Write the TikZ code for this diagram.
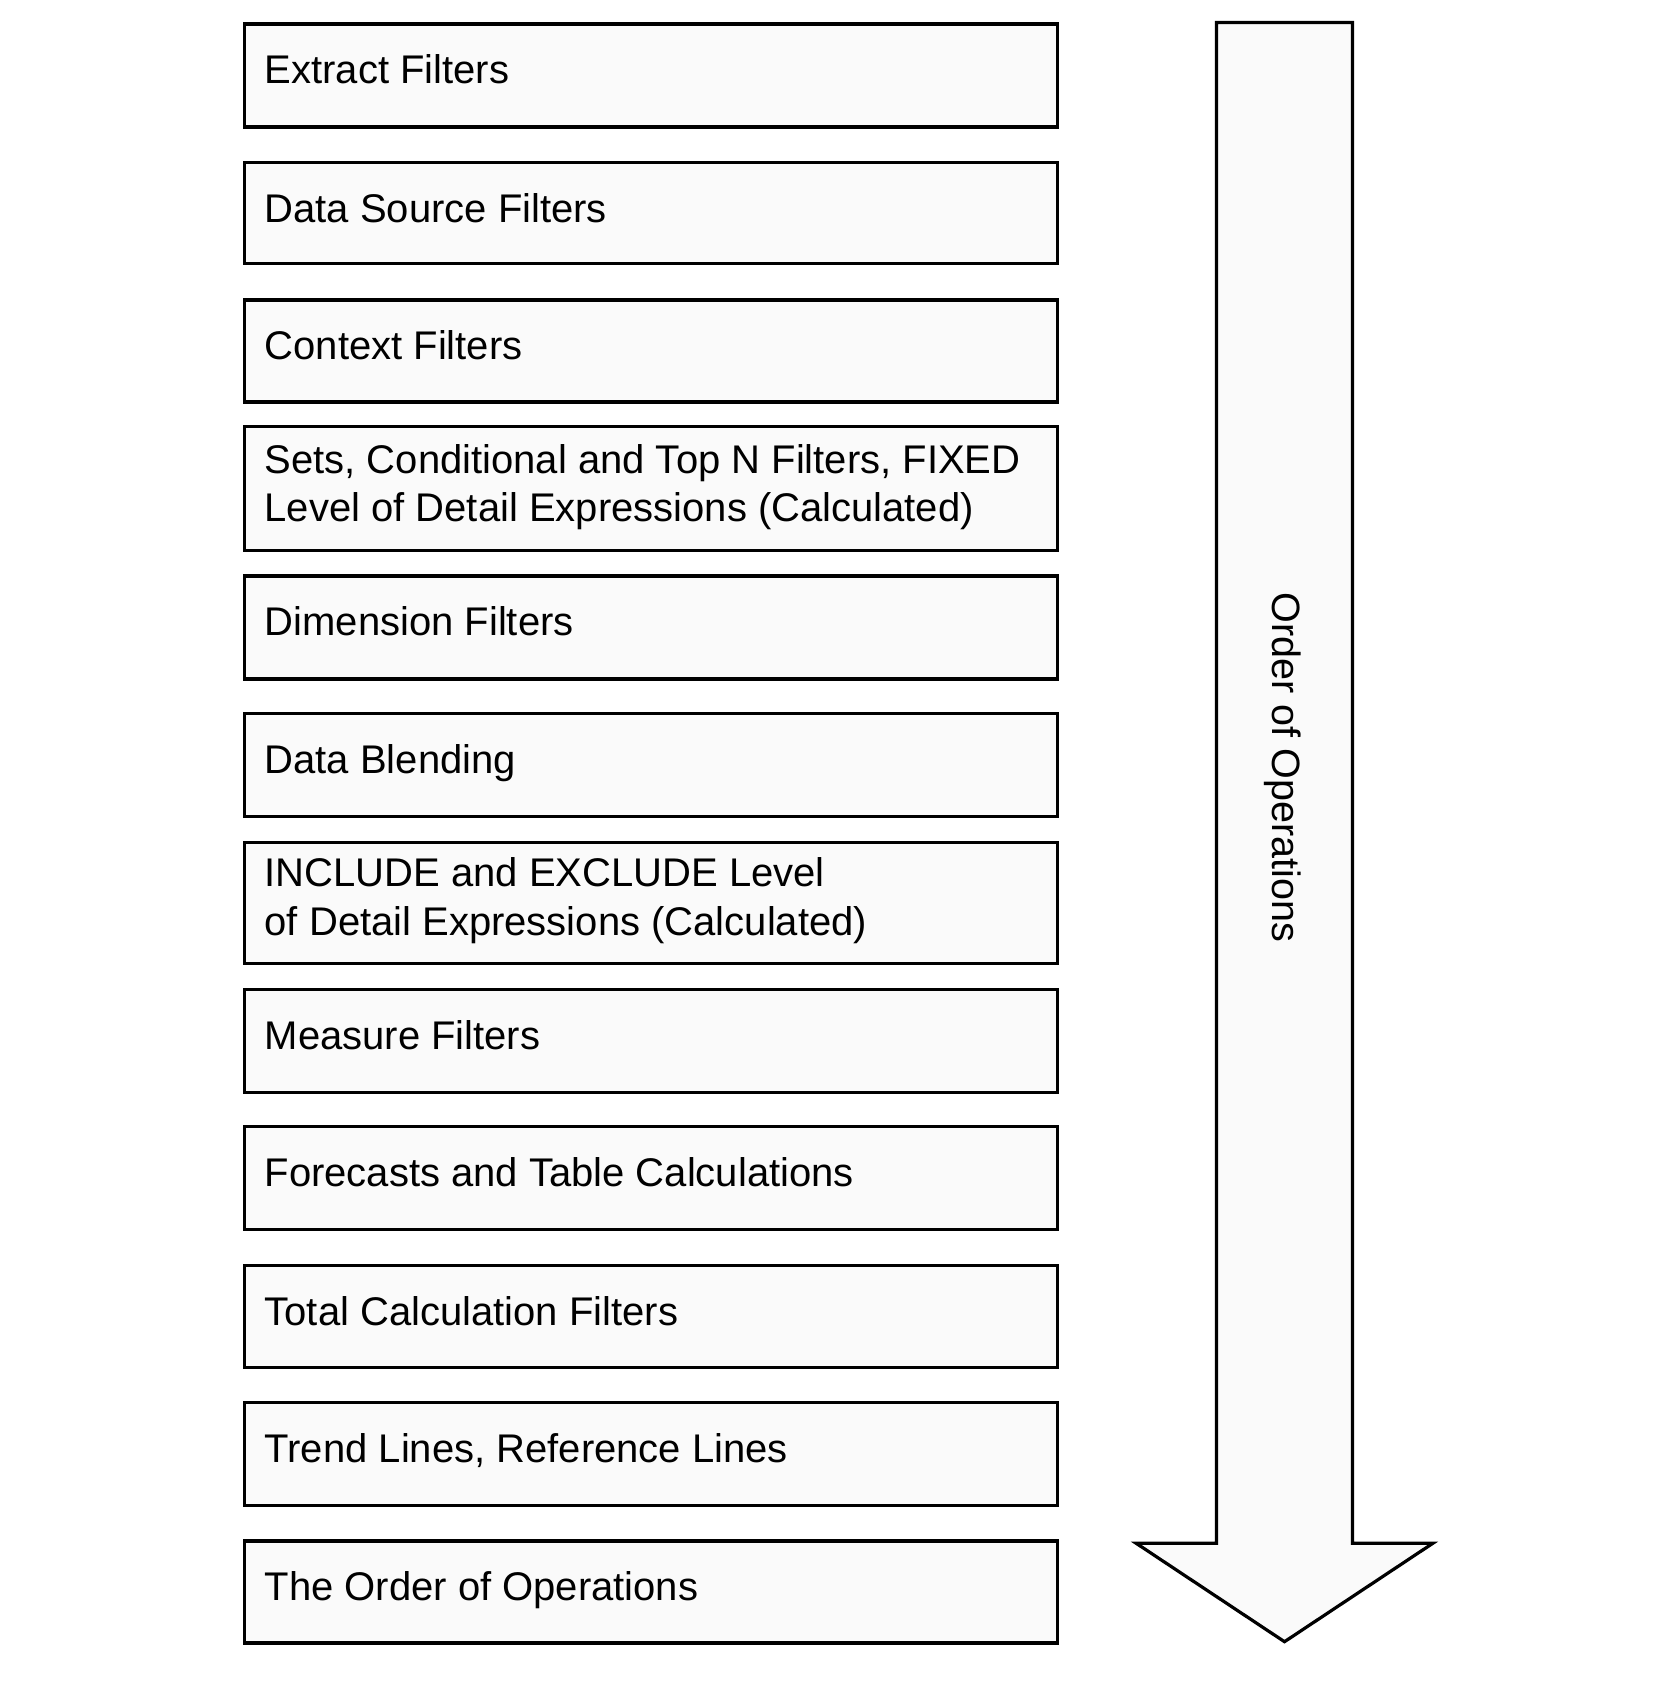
\documentclass[tikz,border=0pt]{standalone}
\usepackage{fontspec}
\setmainfont{Liberation Sans}
\begin{document}
\begin{tikzpicture}[x=1pt,y=-1pt,
  stepbox/.style={draw=black, line width=3.2pt, fill=black!2, rectangle, inner sep=0pt, minimum width=813.5pt, anchor=north west},
  lbl/.style={inner sep=0pt, anchor=base west, align=left, font=\fontsize{40}{48.3}\selectfont},
  arrowshape/.style={draw=black, line width=3.2pt, fill=black!2, line join=miter}]
\useasboundingbox (0,0) rectangle (1665,1683);
\fill[white] (0,0) rectangle (1665,1683);
% arrow
\draw[arrowshape] (1216.5,22.5) -- (1352.5,22.5) -- (1352.5,1543.3) -- (1432.8,1543.3) -- (1284.5,1641.7) -- (1136.2,1543.3) -- (1216.5,1543.3) -- cycle;
\node[inner sep=0pt, anchor=base, rotate=-90, font=\fontsize{39.5}{48.3}\selectfont] (ord) at (1272,767.4) {Order of Operations};
% boxes
\node[stepbox, minimum height=103pt] (b1) at (242.5,22.5) {};
\node[stepbox, minimum height=101pt] (b2) at (242.5,161) {};
\node[stepbox, minimum height=102pt] (b3) at (242.5,298.4) {};
\node[stepbox, minimum height=123.6pt] (b4) at (242.5,425) {};
\node[stepbox, minimum height=103pt] (b5) at (242.5,574.3) {};
\node[stepbox, minimum height=103pt] (b6) at (242.5,711.7) {};
\node[stepbox, minimum height=121.3pt] (b7) at (242.5,840.6) {};
\node[stepbox, minimum height=103pt] (b8) at (242.5,987.6) {};
\node[stepbox, minimum height=103pt] (b9) at (242.5,1125) {};
\node[stepbox, minimum height=102pt] (b10) at (242.5,1263.5) {};
\node[stepbox, minimum height=103pt] (b11) at (242.5,1400.9) {};
\node[stepbox, minimum height=102pt] (b12) at (242.5,1539.4) {};
% labels
\node[lbl] (t1) at ([xshift=22pt,yshift=-61.5pt]b1.north west) {Extract Filters};
\node[lbl] (t2) at ([xshift=22pt,yshift=-61.5pt]b2.north west) {Data Source Filters};
\node[lbl] (t3) at ([xshift=22pt,yshift=-61.5pt]b3.north west) {Context Filters};
\node[lbl] (t4) at ([xshift=22pt,yshift=-96.8pt]b4.north west) {Sets, Conditional and Top N Filters, FIXED\\Level of Detail Expressions (Calculated)};
\node[lbl] (t5) at ([xshift=22pt,yshift=-61.5pt]b5.north west) {Dimension Filters};
\node[lbl] (t6) at ([xshift=22pt,yshift=-61.5pt]b6.north west) {Data Blending};
\node[lbl] (t7) at ([xshift=22pt,yshift=-94.4pt]b7.north west) {INCLUDE and EXCLUDE Level\\of Detail Expressions (Calculated)};
\node[lbl] (t8) at ([xshift=22pt,yshift=-61.5pt]b8.north west) {Measure Filters};
\node[lbl] (t9) at ([xshift=22pt,yshift=-61.5pt]b9.north west) {Forecasts and Table Calculations};
\node[lbl] (t10) at ([xshift=22pt,yshift=-61.5pt]b10.north west) {Total Calculation Filters};
\node[lbl] (t11) at ([xshift=22pt,yshift=-61.5pt]b11.north west) {Trend Lines, Reference Lines};
\node[lbl] (t12) at ([xshift=22pt,yshift=-61.5pt]b12.north west) {The Order of Operations};
\end{tikzpicture}
\end{document}
